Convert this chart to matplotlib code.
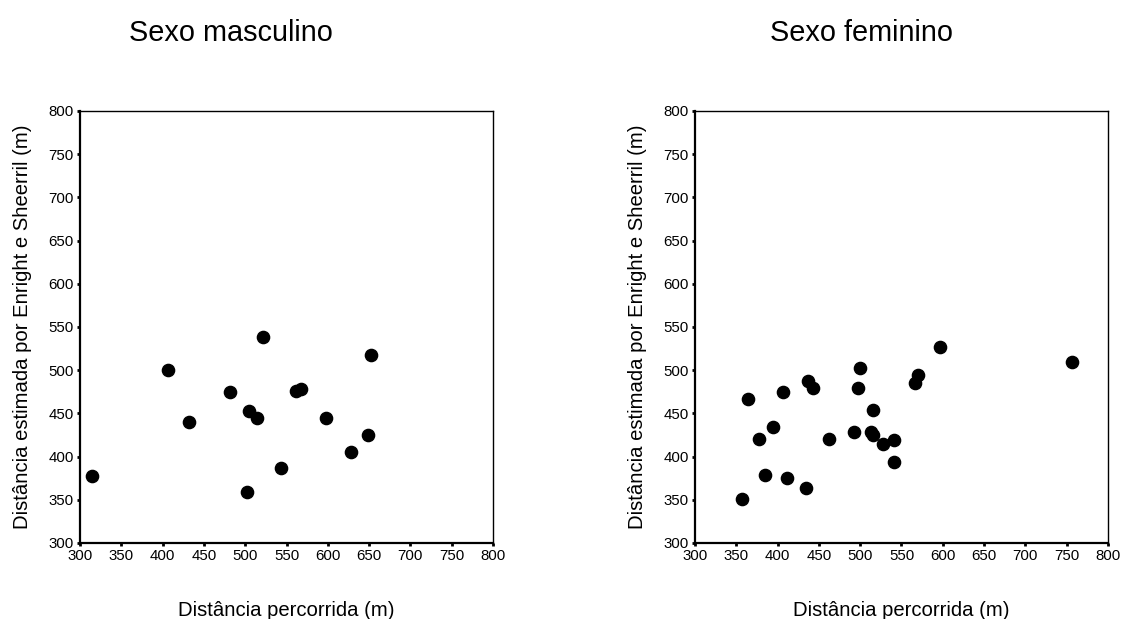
import matplotlib.pyplot as plt
import numpy as np

plt.rcParams['font.family'] = ['Liberation Sans', 'DejaVu Sans']

# Sexo masculino
masc_x = [315, 407, 432, 482, 505, 514, 522, 502, 543, 561, 568, 598, 628, 649, 652]
masc_y = [377, 500, 440, 475, 453, 445, 538, 359, 387, 476, 478, 445, 405, 425, 518]

# Sexo feminino
fem_x = [357, 364, 378, 385, 394, 406, 411, 435, 437, 443, 462, 492, 497, 500,
         513, 515, 516, 528, 541, 541, 566, 570, 597, 756]
fem_y = [351, 467, 420, 379, 434, 475, 375, 364, 487, 479, 420, 429, 479, 502,
         429, 425, 454, 414, 419, 394, 485, 495, 527, 510]

ticks = np.arange(300, 801, 50)
xlabel = 'Distância percorrida (m)'
ylabel = 'Distância estimada por Enright e Sheerril (m)'

fig = plt.figure(figsize=(11.22, 6.19), dpi=100)

panels = [
    (masc_x, masc_y, 'Sexo masculino', 0.0713, 0.206),
    (fem_x, fem_y, 'Sexo feminino', 0.6194, 0.768),
]

for xs, ys, title, left, tx in panels:
    ax = fig.add_axes([left, 0.1228, 0.3681, 0.6979])
    ax.plot(xs, ys, 'o', color='black', markersize=8.8, clip_on=False)
    ax.set_xlim(300, 800)
    ax.set_ylim(300, 800)
    ax.set_xticks(ticks)
    ax.set_yticks(ticks)
    ax.tick_params(direction='out', length=2.5, width=2, labelsize=10.8,
                   pad=2, colors='black')
    for side in ['left', 'bottom']:
        ax.spines[side].set_linewidth(1.6)
    for side in ['top', 'right']:
        ax.spines[side].set_linewidth(1.0)
    ax.set_xlabel(xlabel, fontsize=14.6, labelpad=27)
    ax.set_ylabel(ylabel, fontsize=14.6, labelpad=12)
    fig.text(tx, 0.947, title, fontsize=20.8, ha='center', va='center')

fig.savefig('out.png', dpi=100)
